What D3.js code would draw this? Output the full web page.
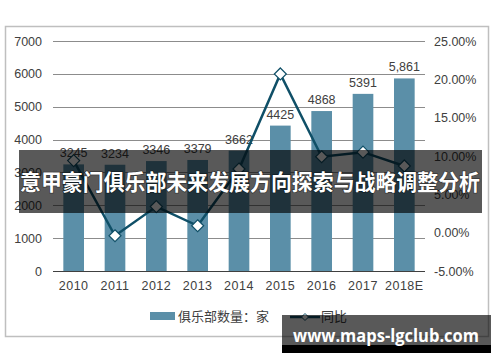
<!DOCTYPE html>
<html><head><meta charset="utf-8">
<script src="https://cdn.jsdelivr.net/npm/d3@7"></script>
<style>
html,body{margin:0;padding:0;background:#fff;}
svg{display:block;}
</style></head>
<body>
<svg id="c" width="500" height="362"></svg>
<script>
const years = ["2010","2011","2012","2013","2014","2015","2016","2017","2018E"];
const clubs = [3245,3234,3346,3379,3662,4425,4868,5391,5861];
const clubLabels = ["3245","3234","3346","3379","3662","4425","4868","5391","5,861"];
const growth = [9.4,-0.4,3.4,0.9,8.3,20.7,9.9,10.5,8.7];
const leftTicks = [0,1000,2000,3000,4000,5000,6000,7000];
const rightTicks = [-5,0,5,10,15,20,25];
const legendBar = "俱乐部数量：家";
const legendLine = "同比";
const bannerText = "意甲豪门俱乐部未来发展方向探索与战略调整分析";
const watermark = "www.maps-lgclub.com";

const svg = d3.select("#c");
const L = 53, R = 425, T = 41, B = 271;
const font = "'Liberation Sans', Arial, sans-serif";
const cjk = "'Noto Sans CJK SC', sans-serif";

// frame
svg.append("rect").attr("x",5.5).attr("y",26.5).attr("width",483).attr("height",310)
  .attr("fill","#fff").attr("stroke","#bfbfbf").attr("stroke-width",1.5);

const x = d3.scaleBand().domain(years).range([L,R]).paddingInner(0.5).paddingOuter(0.25);
const yL = d3.scaleLinear().domain([0,7000]).range([B,T]);
const yR = d3.scaleLinear().domain([-5,25]).range([B,T]);

// gridlines
svg.append("g").selectAll("line").data(leftTicks.slice(1)).join("line")
  .attr("x1",L).attr("x2",R).attr("y1",d=>Math.round(yL(d))+0.5).attr("y2",d=>Math.round(yL(d))+0.5)
  .attr("stroke","#8c8c8c").attr("stroke-width",1);

// left axis
const gl = svg.append("g").attr("transform",`translate(${L},0)`)
  .call(d3.axisLeft(yL).tickValues(leftTicks).tickSize(0).tickPadding(11).tickFormat(d3.format("d")));
gl.select(".domain").remove();
gl.selectAll("text").attr("font-family",font).attr("font-size",12.5).attr("fill","#404040");

// right axis
const gr = svg.append("g").attr("transform",`translate(${R},0)`)
  .call(d3.axisRight(yR).tickValues(rightTicks).tickSize(0).tickPadding(9).tickFormat(d=>d.toFixed(2)+"%"));
gr.select(".domain").remove();
gr.selectAll("text").attr("font-family",font).attr("font-size",12.5).attr("fill","#404040");

// bars
svg.append("g").selectAll("rect").data(clubs).join("rect")
  .attr("x",(d,i)=>x(years[i])).attr("width",x.bandwidth())
  .attr("y",d=>yL(d)).attr("height",d=>B-yL(d)).attr("fill","#5b8fa8");

// baseline
svg.append("line").attr("x1",L).attr("x2",R).attr("y1",B+0.5).attr("y2",B+0.5).attr("stroke","#404040").attr("stroke-width",1);

// bottom axis
const gb = svg.append("g").attr("transform",`translate(0,${B})`)
  .call(d3.axisBottom(x).tickSize(0).tickPadding(10));
gb.select(".domain").remove();
gb.selectAll("text").attr("font-family",font).attr("font-size",12.5).attr("fill","#404040").attr("letter-spacing","0.5px");

// bar labels
svg.append("g").selectAll("text").data(clubs).join("text")
  .attr("x",(d,i)=>x(years[i])+x.bandwidth()/2).attr("y",d=>yL(d)-7)
  .attr("text-anchor","middle").attr("font-family",font).attr("font-size",12.5).attr("fill","#404040")
  .text((d,i)=>clubLabels[i]);

// line
const line = d3.line().x((d,i)=>x(years[i])+x.bandwidth()/2).y(d=>yR(d));
svg.append("path").datum(growth).attr("d",line).attr("fill","none")
  .attr("stroke","#0f4f67").attr("stroke-width",2.5);
svg.append("g").selectAll("path").data(growth).join("path")
  .attr("transform",(d,i)=>`translate(${x(years[i])+x.bandwidth()/2},${yR(d)})`)
  .attr("d","M0,-6L6,0L0,6L-6,0Z").attr("fill","#fff").attr("stroke","#0f4f67").attr("stroke-width",1.2);

// legend
svg.append("rect").attr("x",150).attr("y",312).attr("width",25).attr("height",8).attr("fill","#5b8fa8");
svg.append("text").attr("x",178).attr("y",321).attr("font-family",cjk).attr("font-size",13).attr("fill","#404040").text(legendBar);
svg.append("line").attr("x1",290).attr("x2",320).attr("y1",317).attr("y2",317).attr("stroke","#0f4f67").attr("stroke-width",2.5);
svg.append("path").attr("transform","translate(305,317)").attr("d","M0,-3.5L3.5,0L0,3.5L-3.5,0Z")
  .attr("fill","#fff").attr("stroke","#0f4f67").attr("stroke-width",1);
svg.append("text").attr("x",321).attr("y",321).attr("font-family",cjk).attr("font-size",13).attr("fill","#404040").text(legendLine);

// banner overlay
svg.append("rect").attr("x",19).attr("y",150).attr("width",463).attr("height",63).attr("fill","#000").attr("opacity",0.65);
svg.append("text").attr("x",250).attr("y",190).attr("text-anchor","middle")
  .attr("font-family",cjk).attr("font-weight","bold").attr("font-size",22).attr("fill","#fff")
  .attr("textLength",460).attr("lengthAdjust","spacingAndGlyphs")
  .style("paint-order","stroke").attr("stroke","rgba(0,0,0,0.4)").attr("stroke-width",1.5)
  .text(bannerText);

// watermark
svg.append("rect").attr("x",282).attr("y",315).attr("width",209).attr("height",30).attr("fill","#000").attr("opacity",0.65);
svg.append("rect").attr("x",282).attr("y",345).attr("width",209).attr("height",8).attr("fill","#000");
svg.append("text").attr("x",386).attr("y",342).attr("text-anchor","middle")
  .attr("font-family","'Open Sans', 'DejaVu Sans', sans-serif").attr("font-weight","bold").attr("font-size",17).attr("fill","#fff")
  .attr("textLength",186).attr("lengthAdjust","spacingAndGlyphs")
  .text(watermark);
</script>
</body></html>
